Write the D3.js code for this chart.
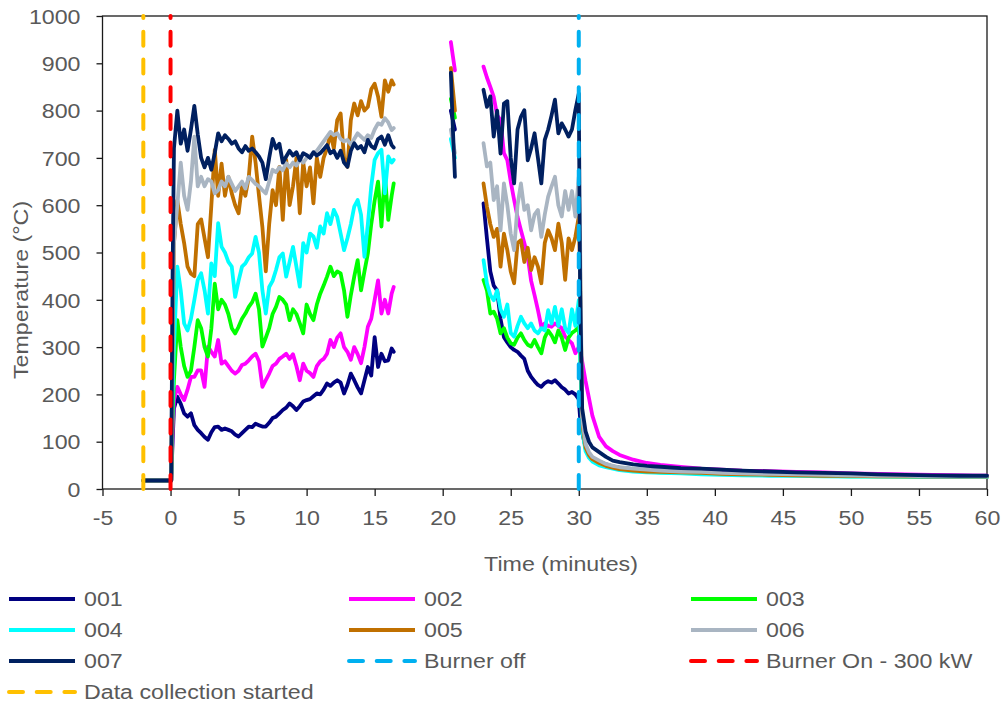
<!DOCTYPE html>
<html>
<head>
<meta charset="utf-8">
<script src="https://cdn.jsdelivr.net/npm/d3@7"></script>
<style>
  body { margin: 0; background: #fff; }
  svg { display: block; }
  text { font-family: "Liberation Sans", Arial, sans-serif; fill: #595959; }
</style>
</head>
<body>
<svg id="chart" width="1003" height="706"></svg>
<script>
// ---- time bases (minutes) ----
const timeA = [-2, 0.05, 0.15,
  0.25, 0.5, 0.75, 1, 1.25, 1.5, 1.75, 2, 2.25, 2.5, 2.75, 3, 3.25, 3.5, 3.75, 4,
  4.25, 4.5, 4.75, 5, 5.25, 5.5, 5.75, 6, 6.25, 6.5, 6.75, 7, 7.25, 7.5, 7.75, 8,
  8.25, 8.5, 8.75, 9, 9.25, 9.5, 9.75, 10, 10.25, 10.5, 10.75, 11, 11.25, 11.5, 11.75, 12,
  12.25, 12.5, 12.75, 13, 13.25, 13.5, 13.75, 14, 14.25, 14.5, 14.75, 15, 15.25, 15.5, 15.75, 16,
  16.25, 16.4];
const timeB = [20.6, 20.75, 20.9];
const timeC = [23, 23.25, 23.5, 23.75, 24, 24.25, 24.5, 24.75, 25, 25.25, 25.5, 25.75, 26,
  26.25, 26.5, 26.75, 27, 27.25, 27.5, 27.75, 28, 28.25, 28.5, 28.75, 29, 29.25, 29.5, 29.75, 30,
  30.1, 30.25, 30.5, 30.75, 31, 31.5, 32, 32.5, 33, 34, 35, 36, 37.5, 39, 40.5, 42, 44, 46, 48,
  50, 52, 54, 56, 58, 60];

// ---- thermocouple readings (°C) ----
const t001A = [18, 18, 100,
  170, 195, 180, 160, 153, 160, 135, 125, 118, 110, 104, 120, 131, 132, 125, 128,
  125, 122, 115, 111, 118, 125, 132, 131, 138, 135, 132, 132, 140, 150, 153, 160,
  167, 172, 181, 175, 167, 175, 185, 188, 190, 196, 202, 200, 210, 223, 218, 225,
  230, 225, 202, 220, 244, 230, 215, 202, 230, 258, 240, 321, 258, 286, 270, 272,
  297, 290];
const t001B = [800, 780, 760];
const t001C = [604, 530, 460, 430, 420, 360, 321, 310, 300, 294, 290, 282, 275,
  250, 237, 228, 220, 216, 224, 228, 225, 230, 223, 215, 210, 202, 205, 200, 190,
  150, 120, 88, 74, 66, 58, 52, 48, 45, 42, 40, 39, 37, 36, 35, 34, 33, 32, 31,
  30, 29, 29, 28, 28, 27];

const t002A = [18, 18, 120,
  188, 216, 200, 188, 210, 237, 237, 251, 251, 216, 301, 290, 280, 315, 265, 270,
  260, 250, 244, 250, 262, 265, 272, 280, 286, 270, 216, 230, 244, 260, 265, 275,
  280, 286, 275, 285, 260, 230, 265, 250, 245, 237, 260, 270, 275, 286, 315, 300,
  320, 329, 300, 290, 273, 300, 285, 266, 300, 343, 360, 400, 441, 371, 400, 371,
  413, 427];
const t002B = [945, 915, 885];
const t002C = [893, 870, 850, 829, 790, 780, 710, 695, 650, 611, 575, 547, 520,
  491, 440, 410, 378, 343, 350, 345, 343, 350, 345, 340, 322, 315, 308, 287, 300,
  292, 270, 228, 192, 155, 110, 90, 80, 72, 62, 55, 51, 47, 43, 41, 39, 38, 36, 35,
  33, 32, 31, 30, 29, 28];

const t003A = [18, 18, 150,
  230, 357, 300, 260, 237, 250, 300, 357, 340, 300, 280, 340, 434, 380, 400, 390,
  370, 340, 329, 343, 360, 371, 385, 395, 413, 380, 301, 320, 340, 370, 385, 406,
  400, 390, 357, 380, 370, 350, 329, 390, 370, 357, 390, 413, 430, 449, 470, 450,
  460, 456, 420, 364, 410, 449, 484, 420, 460, 498, 560, 610, 650, 555, 667, 569,
  620, 646];
const t003B = [825, 805, 785];
const t003C = [442, 420, 371, 375, 360, 329, 340, 320, 308, 305, 320, 329, 315,
  305, 301, 315, 300, 287, 320, 335, 325, 310, 335, 320, 294, 320, 330, 335, 343,
  290, 130, 85, 70, 62, 54, 48, 45, 42, 39, 37, 35, 34, 33, 32, 31, 30, 29, 28,
  27, 27, 26, 26, 26, 26];

const t004A = [18, 18, 200,
  300, 470, 420, 350, 335, 360, 400, 442, 456, 420, 371, 477, 450, 562, 512, 500,
  480, 470, 406, 440, 470, 477, 490, 498, 533, 500, 420, 371, 427, 440, 463, 490,
  498, 449, 480, 512, 470, 428, 520, 500, 540, 534, 510, 555, 540, 583, 560, 590,
  575, 540, 505, 530, 560, 597, 611, 580, 491, 560, 640, 696, 710, 717, 625, 703,
  690, 696];
const t004B = [740, 720, 700];
const t004C = [484, 435, 410, 399, 420, 380, 364, 390, 330, 322, 345, 364, 350,
  340, 350, 335, 329, 340, 335, 378, 350, 385, 345, 380, 340, 330, 380, 345, 399,
  300, 125, 80, 66, 58, 50, 46, 43, 40, 37, 35, 34, 33, 31, 30, 29, 28, 28, 27,
  26, 26, 26, 25, 25, 25];

const t005A = [18, 18, 300,
  520, 610, 560, 520, 470, 455, 450, 560, 570, 530, 490, 600, 717, 620, 688, 620,
  660, 625, 600, 583, 640, 620, 660, 745, 690, 620, 554, 460, 560, 632, 600, 681,
  569, 696, 600, 640, 700, 583, 690, 640, 680, 604, 700, 660, 700, 720, 752, 720,
  780, 794, 700, 681, 780, 815, 790, 820, 800, 808, 845, 857, 830, 787, 864, 840,
  864, 855];
const t005B = [890, 845, 800];
const t005C = [646, 597, 560, 533, 550, 470, 540, 505, 460, 435, 520, 526, 480,
  510, 463, 490, 470, 435, 520, 547, 530, 505, 561, 520, 442, 530, 505, 533, 576,
  460, 140, 88, 72, 63, 55, 49, 45, 42, 39, 37, 36, 35, 34, 32, 31, 30, 29, 28,
  28, 27, 27, 26, 26, 26];

const t006A = [18, 18, 350,
  520, 600, 690, 620, 590, 650, 745, 640, 660, 640, 655, 650, 625, 632, 650, 640,
  660, 645, 630, 640, 650, 635, 660, 653, 645, 640, 632, 625, 650, 675, 670, 680,
  674, 689, 680, 690, 684, 696, 690, 700, 705, 710, 715, 725, 735, 745, 755, 748,
  752, 740, 735, 738, 728, 740, 752, 745, 738, 748, 742, 760, 773, 770, 784, 775,
  759, 763];
const t006B = [760, 735, 710];
const t006C = [731, 682, 690, 611, 640, 547, 646, 600, 540, 505, 600, 646, 590,
  600, 547, 580, 590, 533, 580, 618, 640, 660, 600, 576, 630, 590, 630, 576, 660,
  520, 150, 95, 78, 68, 60, 53, 49, 46, 43, 41, 39, 37, 36, 34, 33, 32, 31, 30,
  29, 28, 28, 27, 27, 27];

const t007A = [18, 18, 450,
  720, 800, 730, 760, 715, 760, 810, 750, 700, 680, 700, 675, 710, 752, 735, 748,
  740, 730, 735, 720, 712, 725, 715, 720, 712, 703, 690, 655, 700, 740, 720, 730,
  690, 703, 715, 705, 712, 695, 710, 706, 700, 712, 705, 710, 718, 727, 710, 715,
  700, 715, 690, 681, 715, 731, 720, 725, 712, 738, 725, 720, 740, 745, 728, 748,
  727, 722];
const t007B = [880, 760, 660];
const t007C = [844, 808, 830, 745, 800, 709, 815, 820, 700, 646, 760, 787, 801,
  695, 720, 752, 700, 646, 738, 760, 790, 823, 752, 773, 760, 745, 760, 801, 836,
  420, 170, 122, 100, 88, 78, 68, 60, 57, 52, 49, 47, 44, 43, 41, 39, 37, 35, 34,
  33, 31, 30, 29, 28, 28];

const seriesNames = ["001", "002", "003", "004", "005", "006", "007"];
const seriesColors = ["#000080", "#FF00FF", "#00FF00", "#00FFFF", "#C07000", "#A9B5C2", "#002060"];
const seriesValues = [
  [t001A, t001B, t001C], [t002A, t002B, t002C], [t003A, t003B, t003C],
  [t004A, t004B, t004C], [t005A, t005B, t005C], [t006A, t006B, t006C],
  [t007A, t007B, t007C]
];
const segmentTimes = [timeA, timeB, timeC];

// ---- event markers ----
const eventNames = ["Burner off", "Burner On - 300 kW", "Data collection started"];
const eventTimes = [30, 0, -2];
const eventColors = ["#00B0F0", "#FF0000", "#FFC000"];

const xTicks = [-5, 0, 5, 10, 15, 20, 25, 30, 35, 40, 45, 50, 55, 60];
const yTicks = [0, 100, 200, 300, 400, 500, 600, 700, 800, 900, 1000];

// ---- layout ----
const svg = d3.select("#chart");
const x = d3.scaleLinear().domain([-5, 60]).range([102.5, 987]);
const y = d3.scaleLinear().domain([0, 1000]).range([489, 16]);
const STRETCH = 1.16;
const FONT = 20;
const TRACE_W = 3.8;

function widen(sel) {
  sel.each(function () {
    const w = this.getComputedTextLength();
    this.setAttribute("textLength", (w * STRETCH).toFixed(1));
    this.setAttribute("lengthAdjust", "spacingAndGlyphs");
  });
}

// plot frame
svg.append("rect")
  .attr("x", x(-5)).attr("y", y(1000))
  .attr("width", x(60) - x(-5)).attr("height", y(0) - y(1000))
  .attr("fill", "none").attr("stroke", "#1a1a1a").attr("stroke-width", 1.3);

// axes
const gx = svg.append("g").attr("transform", `translate(0,${y(0)})`)
  .call(d3.axisBottom(x).tickValues(xTicks).tickSize(7).tickPadding(15).tickFormat(d => String(d)));
const gy = svg.append("g").attr("transform", `translate(${x(-5)},0)`)
  .call(d3.axisLeft(y).tickValues(yTicks).tickSize(6).tickPadding(16).tickFormat(d => String(d)));
[gx, gy].forEach(g => {
  g.select(".domain").remove();
  g.selectAll(".tick line").attr("stroke", "#1a1a1a").attr("stroke-width", 1.3);
  g.selectAll(".tick text").attr("font-size", FONT).attr("font-family", null).style("fill", "#595959");
  widen(g.selectAll(".tick text"));
});
gy.selectAll(".tick text").attr("dy", "0.36em");

// axis titles
widen(svg.append("text")
  .attr("x", 561).attr("y", 571)
  .attr("text-anchor", "middle").attr("font-size", FONT)
  .text("Time (minutes)"));
widen(svg.append("text")
  .attr("transform", "translate(28,290) rotate(-90)")
  .attr("text-anchor", "middle").attr("font-size", FONT)
  .text("Temperature (°C)"));

// temperature traces
const line = d3.line().x(d => x(d[0])).y(d => y(d[1]));
seriesValues.forEach((segs, i) => {
  segs.forEach((vals, k) => {
    const pts = segmentTimes[k].map((t, j) => [t, vals[j]]);
    svg.append("path")
      .datum(pts)
      .attr("d", line)
      .attr("fill", "none")
      .attr("stroke", seriesColors[i])
      .attr("stroke-width", TRACE_W)
      .attr("stroke-linejoin", "round")
      .attr("stroke-linecap", "round");
  });
});

// event markers
const DASH = "14,13.7";
eventTimes.forEach((t, i) => {
  svg.append("line")
    .attr("x1", x(t)).attr("x2", x(t))
    .attr("y1", y(0)).attr("y2", y(1000))
    .attr("stroke", eventColors[i])
    .attr("stroke-width", 4)
    .attr("stroke-dasharray", DASH)
    .attr("stroke-linecap", "round");
});

// legend
const legendItems = seriesNames.map((n, i) => ({ name: n, color: seriesColors[i], dash: null }))
  .concat(eventNames.map((n, i) => ({ name: n, color: eventColors[i], dash: DASH })));
const colX = [8, 348, 690];
const rowY = [599, 630, 661, 692];
const lg = svg.append("g");
legendItems.forEach((it, i) => {
  const cx = colX[i % 3], cy = rowY[Math.floor(i / 3)];
  lg.append("line")
    .attr("x1", cx + 1).attr("x2", cx + 67)
    .attr("y1", cy).attr("y2", cy)
    .attr("stroke", it.color)
    .attr("stroke-width", it.dash ? 4 : TRACE_W)
    .attr("stroke-dasharray", it.dash)
    .attr("stroke-linecap", it.dash ? "round" : "butt");
  widen(lg.append("text")
    .attr("x", cx + 76).attr("y", cy).attr("dy", "0.36em")
    .attr("font-size", FONT)
    .text(it.name));
});
</script>
</body>
</html>
